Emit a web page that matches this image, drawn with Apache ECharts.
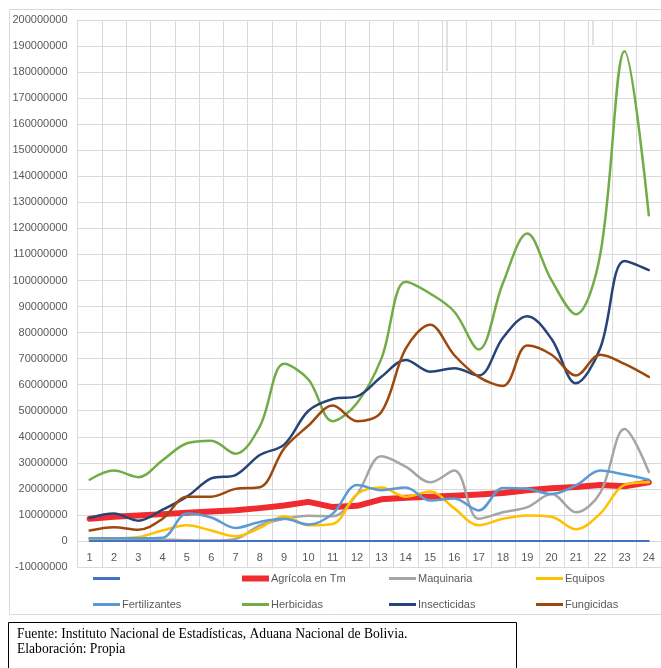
<!DOCTYPE html>
<html>
<head>
<meta charset="utf-8">
<script src="https://cdn.jsdelivr.net/npm/echarts@6/dist/echarts.min.js"></script>
<style>
  html, body { margin: 0; padding: 0; background: #ffffff; }
  #chart { width: 661px; height: 668px; }
</style>
</head>
<body>
<div id="chart"></div>
<script>
// Period index on the category axis
const periods = ['1','2','3','4','5','6','7','8','9','10','11','12','13','14','15','16','17','18','19','20','21','22','23','24'];

// Series values
const baseLine      = [0,0,0,0,0,0,0,0,0,0,0,0,0,0,0,0,0,0,0,0,0,0,0,0];
const agricola      = [8500000,9300000,9800000,10300000,10800000,11300000,11800000,12600000,13600000,15000000,13000000,13500000,16000000,16600000,17000000,17400000,17800000,18400000,19500000,20200000,20700000,21500000,21000000,22500000];
const maquinaria    = [800000,800000,800000,600000,300000,200000,800000,6000000,8500000,9700000,9500000,18000000,32500000,28500000,22500000,27000000,8500000,11000000,13000000,18000000,11000000,18500000,43000000,26500000];
const equipos       = [800000,1000000,1500000,4000000,6000000,4000000,1800000,5000000,9500000,6000000,6500000,18000000,20500000,17000000,19000000,12500000,6000000,8500000,9800000,9300000,4500000,10500000,21500000,22500000];
const fertilizantes = [1000000,1000000,1000000,1200000,10500000,9000000,5000000,7300000,8500000,6300000,10500000,21500000,19500000,20500000,15500000,16300000,11700000,20300000,20000000,18000000,21300000,27000000,25500000,23500000];
const herbicidas    = [23500000,27000000,24500000,31000000,37500000,38500000,33500000,44000000,68000000,62000000,46000000,53000000,70000000,99500000,95000000,88000000,73500000,99000000,118000000,100000000,87000000,110000000,188000000,125000000];
const insecticidas  = [8800000,10500000,7800000,12000000,17000000,24000000,25300000,33000000,37000000,50000000,54500000,55500000,63000000,69500000,65000000,66300000,63500000,78000000,86300000,77500000,60500000,74000000,107500000,104000000];
const fungicidas    = [4000000,5300000,4300000,8500000,17000000,17000000,20000000,20600000,35500000,44300000,52000000,46000000,49500000,73800000,83000000,71300000,63000000,59500000,75000000,71500000,63500000,71500000,68000000,63000000];

// Value axis range
const yMin = -10000000;
const yMax = 200000000;
const yStep = 10000000;

const sourceLine = 'Fuente: Instituto Nacional de Estadísticas, Aduana Nacional de Bolivia.';
const authorLine = 'Elaboración: Propia';

const labelFont = 'Liberation Sans, Arial, sans-serif';
const labelColor = '#595959';
const gridColor = '#D9D9D9';

const seriesDefs = [
  { name: ' ',              data: baseLine,      color: '#4472C4', width: 2,   smooth: false },
  { name: 'Agrícola en Tm', data: agricola,      color: '#F02B2F', width: 6,   smooth: false },
  { name: 'Maquinaria',     data: maquinaria,    color: '#A5A5A5', width: 2.5, smooth: 0.35 },
  { name: 'Equipos',        data: equipos,       color: '#FFC000', width: 2.5, smooth: 0.35 },
  { name: 'Fertilizantes',  data: fertilizantes, color: '#5B9BD5', width: 2.5, smooth: 0.35 },
  { name: 'Herbicidas',     data: herbicidas,    color: '#70AD47', width: 2.5, smooth: 0.35 },
  { name: 'Insecticidas',   data: insecticidas,  color: '#264478', width: 2.5, smooth: 0.35 },
  { name: 'Fungicidas',     data: fungicidas,    color: '#9E480E', width: 2.5, smooth: 0.35 }
];

// Legend laid out as a 4 x 2 table
const legendCols = [93, 242, 389, 536];
const legendRows = [578, 604];
const legends = seriesDefs.map(function (s, i) {
  const h = s.width > 4 ? 6 : 3;
  return {
    data: [s.name],
    left: legendCols[i % 4],
    top: legendRows[Math.floor(i / 4)] - 5,
    padding: 0,
    itemWidth: 27,
    itemHeight: h,
    icon: 'rect',
    selectedMode: false,
    textStyle: { fontFamily: labelFont, fontSize: 11, color: labelColor, padding: [0, 0, 0, -3] }
  };
});

// Blue base line drawn last so it sits over the zero line
const drawOrder = [1, 2, 3, 4, 5, 6, 7, 0];

const chart = echarts.init(document.getElementById('chart'), null, { renderer: 'canvas' });
chart.setOption({
  backgroundColor: '#ffffff',
  animation: false,
  legend: legends,
  grid: { left: 77.5, right: -4, top: 20, bottom: 101, containLabel: false },
  xAxis: {
    type: 'category',
    data: periods,
    boundaryGap: true,
    offset: -26,
    axisLine: { onZero: false, lineStyle: { color: gridColor, width: 1 } },
    axisTick: { show: false },
    axisLabel: { margin: 11, fontFamily: labelFont, fontSize: 11, color: labelColor, interval: 0 },
    splitLine: { show: true, interval: 0, lineStyle: { color: gridColor, width: 1 } }
  },
  yAxis: {
    type: 'value',
    min: yMin,
    max: yMax,
    interval: yStep,
    axisLine: { show: true, lineStyle: { color: gridColor } },
    axisTick: { show: false },
    axisLabel: { margin: 10, fontFamily: labelFont, fontSize: 11, color: labelColor, formatter: function (v) { return String(v); } },
    splitLine: { show: true, lineStyle: { color: gridColor, width: 1 } }
  },
  series: drawOrder.map(function (i) {
    const s = seriesDefs[i];
    return {
      name: s.name,
      type: 'line',
      data: s.data,
      smooth: s.smooth,
      showSymbol: false,
      symbol: 'none',
      color: s.color,
      lineStyle: { color: s.color, width: s.width, cap: 'round', join: 'round' },
      z: i === 0 ? 3 : 2
    };
  }),
  graphic: [
    // outer frame of the chart area
    { type: 'rect', silent: true, z: -10,
      shape: { x: 9.5, y: 9.5, width: 660, height: 605 },
      style: { fill: 'none', stroke: '#D9D9D9', lineWidth: 1 } },
    // faint marks along the top gridline
    { type: 'line', silent: true, z: -5,
      shape: { x1: 447, y1: 20, x2: 447, y2: 71 },
      style: { stroke: '#C4C4C4', lineWidth: 1 } },
    { type: 'line', silent: true, z: -5,
      shape: { x1: 593, y1: 20, x2: 593, y2: 45 },
      style: { stroke: '#C4C4C4', lineWidth: 1 } },
    // source box
    { type: 'rect', silent: true,
      shape: { x: 8.5, y: 622.5, width: 508, height: 60 },
      style: { fill: '#ffffff', stroke: '#000000', lineWidth: 1 } },
    { type: 'text', silent: true, left: 17, top: 627.5,
      style: { text: sourceLine, font: '13.6px "Liberation Serif", "Times New Roman", serif', fill: '#000000' } },
    { type: 'text', silent: true, left: 17, top: 642.5,
      style: { text: authorLine, font: '13.6px "Liberation Serif", "Times New Roman", serif', fill: '#000000' } }
  ]
});
</script>
</body>
</html>
